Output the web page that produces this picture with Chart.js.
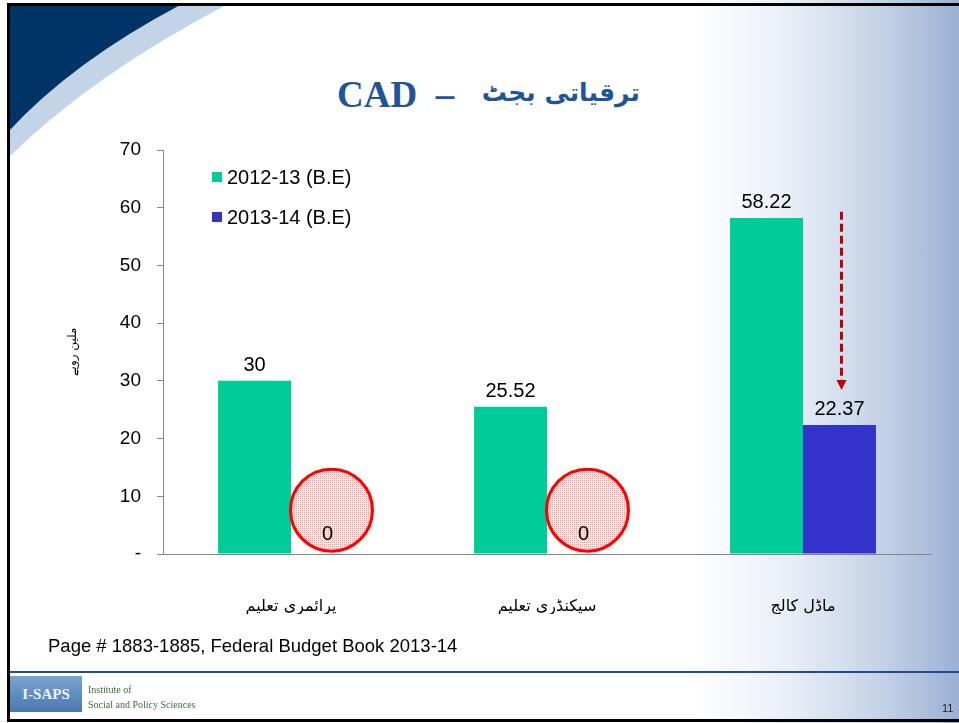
<!DOCTYPE html>
<html><head><meta charset="utf-8">
<script src="https://cdn.jsdelivr.net/npm/chart.js@4.4.0/dist/chart.umd.min.js"></script>
<style>
html,body{margin:0;padding:0;width:959px;height:723px;overflow:hidden;background:#fff;}
#slide{position:absolute;left:0;top:0;width:959px;height:723px;
 background:linear-gradient(to right,#ffffff 0%,#ffffff 72%,#eaeff7 82%,#c4d2e6 92%,#9bb0d4 100%);}
svg{position:absolute;left:0;top:0}
#wrap{position:absolute;left:0;top:0;width:959px;height:723px}
.t{position:absolute;white-space:nowrap;color:#1f5597;}
#tLat{left:337px;top:73px;font-family:"Liberation Serif","Times New Roman",serif;font-weight:bold;font-size:37px;}
#tUrd{left:497px;top:78px;width:143px;text-align:center;font-family:"DejaVu Sans","Noto Sans",sans-serif;font-weight:bold;font-size:25px;}
#foot{position:absolute;left:48px;top:635px;font-family:"Liberation Sans",Arial,sans-serif;font-size:18.5px;color:#000;white-space:nowrap}
#page{position:absolute;left:942px;top:702px;font-family:"Liberation Sans",Arial,sans-serif;font-size:11px;color:#222}
#logoTxt{position:absolute;left:88px;top:682px;font-family:"Liberation Serif",serif;font-size:10px;line-height:15px;color:#3f6a3a}
#logoBox{position:absolute;left:10px;top:676px;width:72px;height:36px;background:linear-gradient(#7aa3cf,#4a79b0);color:#eef4fb;font-family:"Liberation Serif",serif;font-weight:bold;font-size:15px;line-height:36px;text-align:center}
</style></head>
<body>
<div id="slide"></div>
<svg width="959" height="723">
  <path d="M8,158 Q92,75 228,4 L8,4 Z" fill="#c3d3e8"/>
  <path d="M8,132 Q72,62 182,4 L8,4 Z" fill="#003466"/>
  <line x1="8" y1="672" x2="959" y2="672" stroke="#1f4e8c" stroke-width="2"/>
  <rect x="8.5" y="4.5" width="960" height="716" fill="none" stroke="#000" stroke-width="3"/>
</svg>
<div id="tLat" class="t">CAD&nbsp;&nbsp;–</div>
<div id="tUrd" class="t" dir="rtl">ترقیاتی بجٹ</div>
<div id="wrap"><canvas id="c" width="959" height="723"></canvas></div>
<div id="foot">Page # 1883-1885, Federal Budget Book 2013-14</div>
<div id="logoBox">I-SAPS</div>
<div id="logoTxt">Institute of<br>Social and Policy Sciences</div>
<div id="page">11</div>
<script>
const categories = ['پرائمری تعلیم', 'سیکنڈری تعلیم', 'ماڈل کالج'];
const seriesNames = ['2012-13 (B.E)', '2013-14 (B.E)'];
const values2012 = [30, 25.52, 58.22];
const values2013 = [0, 0, 22.37];
const yTickValues = [0, 10, 20, 30, 40, 50, 60, 70];
const yTitle = 'ملین روپے';
const seriesColors = ['#00cc99', '#3333cc'];

// dotted pink pattern for highlight circles
const pc = document.createElement('canvas'); pc.width = 2; pc.height = 2;
const pctx = pc.getContext('2d');
pctx.fillStyle = '#fde6e6'; pctx.fillRect(0,0,2,2);
pctx.fillStyle = '#f29a9a'; pctx.fillRect(0,0,1,1);

const overlay = {
  id: 'overlay',
  afterDatasetsDraw(chart) {
    const ctx = chart.ctx;
    const y = chart.scales.y;
    const pat = ctx.createPattern(pc, 'repeat');
    const meta1 = chart.getDatasetMeta(1);
    // circles around zero bars
    meta1.data.forEach((bar, i) => {
      if (values2013[i] === 0) {
        ctx.save();
        ctx.beginPath();
        ctx.arc(bar.x + 4, y.getPixelForValue(7.6), 41, 0, Math.PI * 2);
        ctx.fillStyle = pat; ctx.fill();
        ctx.lineWidth = 3; ctx.strokeStyle = '#ff0000'; ctx.stroke();
        ctx.restore();
      }
    });
    // dashed arrow over last blue bar
    const last = meta1.data[2];
    const ax = last.x + 2;
    const y0 = y.getPixelForValue(59.3), y1 = y.getPixelForValue(28.4);
    ctx.save();
    ctx.strokeStyle = '#c00000'; ctx.lineWidth = 3; ctx.setLineDash([8, 4]);
    ctx.beginPath(); ctx.moveTo(ax, y0); ctx.lineTo(ax, y1 - 9); ctx.stroke();
    ctx.setLineDash([]);
    ctx.fillStyle = '#c00000';
    ctx.beginPath(); ctx.moveTo(ax - 5, y1 - 10); ctx.lineTo(ax + 5, y1 - 10); ctx.lineTo(ax, y1); ctx.closePath(); ctx.fill();
    ctx.restore();
    // value labels
    ctx.save();
    ctx.font = '20px "Liberation Sans", Arial, sans-serif';
    ctx.fillStyle = '#000'; ctx.textAlign = 'center'; ctx.textBaseline = 'alphabetic';
    chart.data.datasets.forEach((ds, di) => {
      chart.getDatasetMeta(di).data.forEach((bar, i) => {
        const v = ds.data[i];
        ctx.fillText(String(v), bar.x, bar.y - (v === 0 ? 14 : 10));
      });
    });
    ctx.restore();
    // legend
    ctx.save();
    ctx.font = '20px "Liberation Sans", Arial, sans-serif';
    ctx.textBaseline = 'middle'; ctx.textAlign = 'left';
    chart.data.datasets.forEach((ds, di) => {
      const ly = 177 + di * 40;
      ctx.fillStyle = ds.backgroundColor; ctx.fillRect(212, ly - 5, 10, 10);
      ctx.fillStyle = '#000'; ctx.fillText(ds.label, 227, ly + 1);
    });
    ctx.restore();
  }
};

new Chart(document.getElementById('c'), {
  type: 'bar',
  data: {
    labels: categories,
    datasets: [
      { label: seriesNames[0], data: values2012, backgroundColor: seriesColors[0] },
      { label: seriesNames[1], data: values2013, backgroundColor: seriesColors[1] }
    ]
  },
  plugins: [overlay],
  options: {
    responsive: false,
    animation: false,
    layout: { padding: { left: 0, top: 150, right: 28, bottom: 109 } },
    plugins: { legend: { display: false }, tooltip: { enabled: false } },
    datasets: { bar: { categoryPercentage: 0.57, barPercentage: 1 } },
    scales: {
      x: {
        afterFit: s => { s.height = 60; },
        grid: { display: false },
        border: { display: true, color: '#868686', width: 1 },
        ticks: { color: '#000', padding: 35, font: { family: '"DejaVu Sans", sans-serif', size: 16 } }
      },
      y: {
        min: 0, max: 70,
        afterFit: s => { s.width = 163; },
        afterBuildTicks: s => { s.ticks = yTickValues.map(v => ({ value: v })); },
        grid: { display: true, drawOnChartArea: false, drawTicks: true, tickLength: 6, color: '#868686' },
        border: { display: true, color: '#868686', width: 1 },
        ticks: { color: '#000', padding: 16, font: { family: '"Liberation Sans", Arial, sans-serif', size: 19 },
                 callback: v => v === 0 ? '-' : String(v) },
        title: { display: true, text: yTitle, color: '#000', padding: { top: 66, bottom: 0 },
                 font: { family: '"DejaVu Sans", sans-serif', size: 12 } }
      }
    }
  }
});
</script>
</body></html>
